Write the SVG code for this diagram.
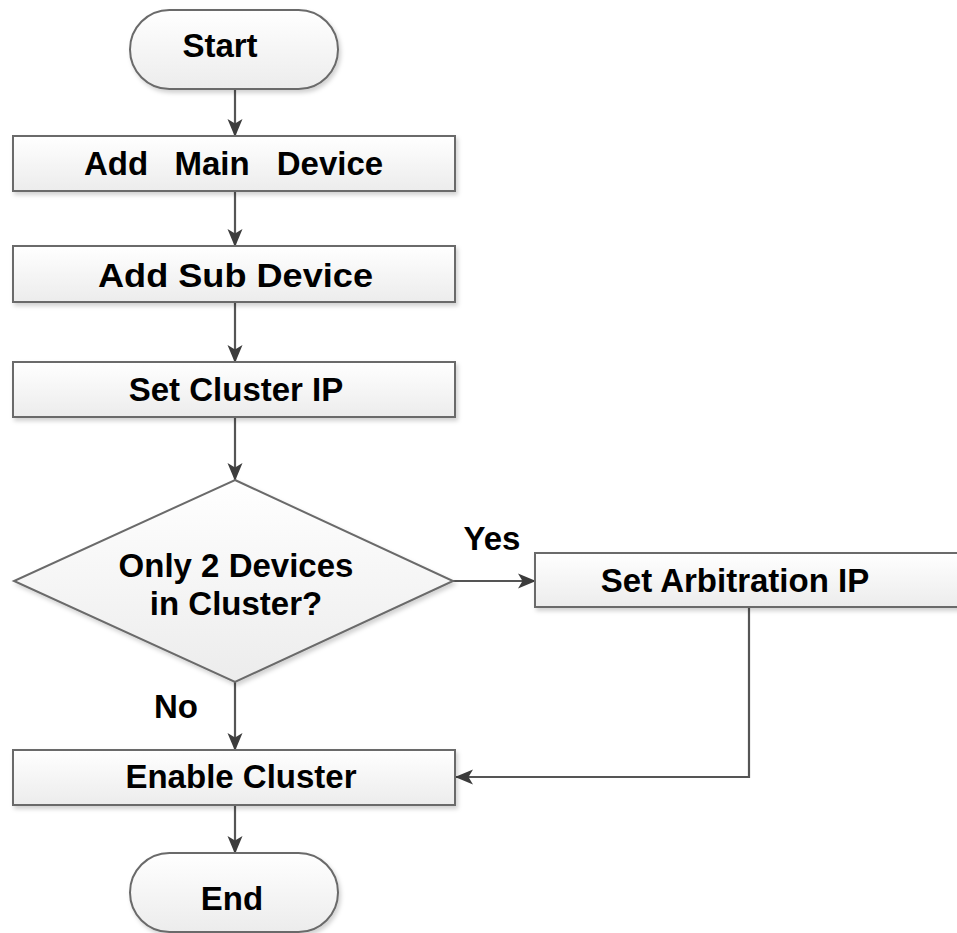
<svg xmlns="http://www.w3.org/2000/svg" width="957" height="933" viewBox="0 0 957 933">
<defs>
<linearGradient id="g" x1="0" y1="0" x2="0" y2="1">
<stop offset="0" stop-color="#ffffff"/>
<stop offset="1" stop-color="#ececec"/>
</linearGradient>
<filter id="sh" x="-5%" y="-10%" width="110%" height="130%">
<feDropShadow dx="2" dy="3" stdDeviation="2" flood-color="#000" flood-opacity="0.18"/>
</filter>
<marker id="ah" viewBox="0 0 18 18" refX="17" refY="9" markerWidth="18" markerHeight="18" markerUnits="userSpaceOnUse" orient="auto">
<path d="M0,1.5 L18,9 L0,16.5 L4.5,9 Z" fill="#3c3c3c"/>
</marker>
</defs>
<style>
.shape{fill:url(#g);stroke:#6a6a6a;stroke-width:2;filter:url(#sh)}
.t{font-family:"Liberation Sans",Arial,sans-serif;font-weight:bold;font-size:33px;fill:#000;text-anchor:middle}
.c{fill:none;stroke:#555;stroke-width:2.2;marker-end:url(#ah)}
</style>
<rect width="957" height="933" fill="#fff"/>
<g id="connectors">
<line class="c" x1="235" y1="89" x2="235" y2="136"/>
<line class="c" x1="235" y1="191" x2="235" y2="246"/>
<line class="c" x1="235" y1="302" x2="235" y2="362"/>
<line class="c" x1="235" y1="417" x2="235" y2="480"/>
<line class="c" x1="453" y1="581" x2="535" y2="581"/>
<line class="c" x1="235" y1="682" x2="235" y2="750"/>
<polyline class="c" points="749,607 749,777 456,777"/>
<line class="c" x1="235" y1="805" x2="235" y2="853"/>
<text class="t" x="492" y="550" font-size="31">Yes</text>
<text class="t" x="176" y="718" font-size="31">No</text>
</g>
<g id="start">
<rect class="shape" x="130" y="10" width="208" height="79" rx="39.5"/>
<text class="t" x="220" y="57">Start</text>
</g>
<g id="add-main">
<rect class="shape" x="13" y="136" width="442" height="55"/>
<text class="t" x="116" y="175">Add</text>
<text class="t" x="212" y="175">Main</text>
<text class="t" x="330" y="175">Device</text>
</g>
<g id="add-sub">
<rect class="shape" x="13" y="246" width="442" height="56"/>
<text class="t" x="235.5" y="287" font-size="35" textLength="275" lengthAdjust="spacingAndGlyphs">Add Sub Device</text>
</g>
<g id="set-cluster">
<rect class="shape" x="13" y="362" width="442" height="55"/>
<text class="t" x="236" y="401">Set Cluster IP</text>
</g>
<g id="decision">
<polygon class="shape" points="235,480 453,581 235,682 14,581"/>
<text class="t" x="236" y="577">Only 2 Devices</text>
<text class="t" x="236" y="615">in Cluster?</text>
</g>
<g id="set-arb">
<rect class="shape" x="535" y="553" width="430" height="54"/>
<text class="t" x="735" y="592">Set Arbitration IP</text>
</g>
<g id="enable">
<rect class="shape" x="13" y="750" width="442" height="55"/>
<text class="t" x="241" y="788">Enable Cluster</text>
</g>
<g id="end">
<rect class="shape" x="130" y="853" width="208" height="79" rx="39.5"/>
<text class="t" x="232" y="910">End</text>
</g>
</svg>
